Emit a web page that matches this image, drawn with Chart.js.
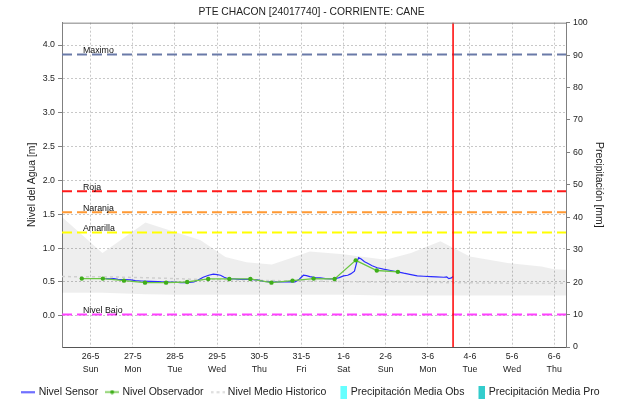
<!DOCTYPE html>
<html>
<head>
<meta charset="utf-8">
<title>PTE CHACON [24017740] - CORRIENTE: CANE</title>
<script src="https://cdn.jsdelivr.net/npm/chart.js@4.4.1/dist/chart.umd.min.js"></script>
<style>
  html, body { margin: 0; padding: 0; background: #fff; }
  canvas { display: block; }
</style>
</head>
<body>
<canvas id="grafico" width="623" height="402"></canvas>
<script>
// el eje x va en dias contados desde el 26-5 a las 00:00
const diasEtiqueta = ['26-5', '27-5', '28-5', '29-5', '30-5', '31-5', '1-6', '2-6', '3-6', '4-6', '5-6', '6-6'];
const diasSemana = ['Sun', 'Mon', 'Tue', 'Wed', 'Thu', 'Fri', 'Sat', 'Sun', 'Mon', 'Tue', 'Wed', 'Thu'];
const X_MIN = -0.68;
const X_MAX = 11.28;
const ahora = 8.6;

// Nivel Sensor [m]
const sensorTiempo = [0.35, 0.45, 0.55, 0.65, 0.8, 0.95, 1.06, 1.2, 1.42, 1.6, 1.77, 1.95, 2.13, 2.3, 2.45, 2.55,
  2.67, 2.8, 2.91, 3.0, 3.08, 3.17, 3.25, 3.4, 3.56, 3.75, 3.96, 4.1, 4.3, 4.5, 4.7, 4.85, 4.95, 5.05, 5.12,
  5.2, 5.33, 5.45, 5.57, 5.7, 5.8, 5.9, 6.0, 6.1, 6.17, 6.26, 6.31, 6.36, 6.42, 6.5, 6.56, 6.68, 6.8, 6.95,
  7.12, 7.28, 7.43, 7.6, 7.75, 7.9, 8.07, 8.2, 8.38, 8.45, 8.5, 8.56, 8.6];
const sensorNivel = [0.55, 0.545, 0.55, 0.54, 0.535, 0.53, 0.52, 0.515, 0.51, 0.505, 0.50, 0.50, 0.49, 0.49, 0.50, 0.53,
  0.57, 0.60, 0.615, 0.61, 0.60, 0.57, 0.55, 0.545, 0.54, 0.54, 0.53, 0.51, 0.50, 0.50, 0.505, 0.50, 0.54, 0.60, 0.595,
  0.58, 0.565, 0.56, 0.55, 0.545, 0.55, 0.565, 0.59, 0.60, 0.62, 0.66, 0.78, 0.86, 0.84, 0.80, 0.78, 0.74, 0.71, 0.69,
  0.67, 0.65, 0.63, 0.61, 0.59, 0.585, 0.58, 0.575, 0.57, 0.575, 0.55, 0.56, 0.58];

// Nivel Observador [m], lecturas de 07:00 y 19:00
const obsTiempo = [-0.21, 0.29, 0.79, 1.29, 1.79, 2.29, 2.79, 3.29, 3.79, 4.29, 4.79, 5.29, 5.79, 6.29, 6.79, 7.29];
const obsNivel = [0.55, 0.55, 0.52, 0.49, 0.49, 0.50, 0.545, 0.545, 0.545, 0.49, 0.52, 0.55, 0.545, 0.82, 0.67, 0.65];

// Nivel Medio Historico [m]
const histTiempo = [-0.68, 0.5, 1.5, 2.5, 3.5, 4.5, 5.5, 6.5, 7.5, 8.5, 9.5, 10.5, 11.28];
const histNivel = [0.58, 0.575, 0.56, 0.54, 0.53, 0.52, 0.51, 0.50, 0.50, 0.49, 0.485, 0.48, 0.48];

// banda historica (minimo / maximo) [m]
const bandaTiempo = [-0.68, 0.28, 1.3, 2.0, 2.6, 3.2, 3.7, 4.3, 4.74, 5.2, 6.0, 7.0, 7.6, 8.3, 9.0, 9.9, 10.7, 11.0, 11.28];
const bandaMax = [1.46, 0.93, 1.38, 1.24, 1.12, 0.87, 0.79, 0.76, 0.85, 0.95, 0.91, 0.83, 0.93, 1.10, 0.875, 0.78, 0.73, 0.69, 0.68];
const bandaMin = [0.34, 0.34, 0.32, 0.31, 0.31, 0.31, 0.31, 0.31, 0.31, 0.31, 0.31, 0.30, 0.30, 0.30, 0.30, 0.30, 0.30, 0.30, 0.30];

// precipitacion [mm] (sin lluvia en el periodo)
const precipObs = [];
const precipPro = [];

// umbrales [m]
const umbralNombre = ['Maximo', 'Roja', 'Naranja', 'Amarilla', 'Nivel Bajo'];
const umbralValor = [3.86, 1.84, 1.53, 1.23, 0.02];
const umbralColor = ['#6a7aa8', '#ff1a1a', '#ff9933', '#ffff00', '#ff40ff'];

const FUENTE = "'Liberation Sans', Arial, sans-serif";
const TEXTO = '#222';

function puntos(xs, ys) {
  return xs.map((x, i) => ({ x: x, y: ys[i] }));
}

// marcadores de la leyenda
function marcador(w, h, dibujar) {
  const c = document.createElement('canvas');
  c.width = w;
  c.height = h;
  dibujar(c.getContext('2d'), w, h);
  return c;
}
const marcadores = [
  marcador(14, 3, (g, w) => { g.strokeStyle = '#2b2bff'; g.lineWidth = 1.5; g.beginPath(); g.moveTo(0, 1.5); g.lineTo(w, 1.5); g.stroke(); }),
  marcador(14, 5, (g, w) => {
    g.strokeStyle = '#6cc644'; g.lineWidth = 1.5; g.beginPath(); g.moveTo(0, 2.5); g.lineTo(w, 2.5); g.stroke();
    g.fillStyle = '#3fae1a'; g.beginPath(); g.arc(w / 2, 2.5, 2, 0, Math.PI * 2); g.fill();
  }),
  marcador(14, 3, (g, w) => { g.strokeStyle = '#cfcfcf'; g.lineWidth = 1.5; g.setLineDash([3, 3]); g.beginPath(); g.moveTo(0, 1.5); g.lineTo(w, 1.5); g.stroke(); }),
  marcador(14, 13, (g) => { g.fillStyle = '#66ffff'; g.fillRect(7, 0, 7, 13); }),
  marcador(14, 13, (g) => { g.fillStyle = '#33cccc'; g.fillRect(7, 0, 7, 13); })
];

const datasets = [
  { label: 'Nivel Sensor', data: puntos(sensorTiempo, sensorNivel), borderColor: '#2b2bff', borderWidth: 1.2,
    pointRadius: 0, tension: 0, order: 2 },
  { label: 'Nivel Observador', data: puntos(obsTiempo, obsNivel), borderColor: '#6cc644', borderWidth: 1.3,
    pointRadius: 2.2, pointBackgroundColor: '#3fae1a', pointBorderWidth: 0, tension: 0, order: 1 },
  { label: 'Nivel Medio Historico', data: puntos(histTiempo, histNivel), borderColor: '#cfcfcf', borderWidth: 1.5,
    borderDash: [3, 3], pointRadius: 0, order: 5 },
  { type: 'bar', label: 'Precipitación Media Obs', data: precipObs, backgroundColor: '#66ffff', yAxisID: 'y2', order: 6 },
  { type: 'bar', label: 'Precipitación Media Pro', data: precipPro, backgroundColor: '#33cccc', yAxisID: 'y2', order: 6 },
  { label: 'banda-min', data: puntos(bandaTiempo, bandaMin), borderWidth: 0, pointRadius: 0, fill: false, order: 10 },
  { label: 'banda-max', data: puntos(bandaTiempo, bandaMax), borderWidth: 0, pointRadius: 0,
    fill: '-1', backgroundColor: 'rgba(0,0,0,0.065)', order: 10 }
];

umbralNombre.forEach((nombre, i) => {
  datasets.push({ label: 'umbral-' + nombre, data: [{ x: X_MIN, y: umbralValor[i] }, { x: X_MAX, y: umbralValor[i] }],
    borderColor: umbralColor[i], borderWidth: 2, borderDash: [10, 5], pointRadius: 0, order: 4 });
});

// linea de la hora actual
datasets.push({ label: 'ahora', data: [{ x: ahora, y: -1 }, { x: ahora, y: 5 }], borderColor: '#ff0000',
  borderWidth: 1.5, pointRadius: 0, order: 0 });

// nombres de los umbrales y borde superior del area
const etiquetasUmbral = {
  id: 'etiquetasUmbral',
  afterDatasetsDraw(chart) {
    const { ctx, chartArea, scales } = chart;
    ctx.save();
    ctx.strokeStyle = '#808080';
    ctx.lineWidth = 1;
    ctx.beginPath();
    ctx.moveTo(chartArea.left, chartArea.top + 0.5);
    ctx.lineTo(chartArea.right, chartArea.top + 0.5);
    ctx.stroke();
    ctx.font = '8.8px ' + FUENTE;
    ctx.fillStyle = '#111';
    ctx.textAlign = 'left';
    ctx.textBaseline = 'alphabetic';
    umbralNombre.forEach((nombre, i) => {
      ctx.fillText(nombre, chartArea.left + 21, scales.y.getPixelForValue(umbralValor[i]) - 1.5);
    });
    ctx.restore();
  }
};

new Chart(document.getElementById('grafico'), {
  type: 'line',
  data: { datasets: datasets },
  plugins: [etiquetasUmbral],
  options: {
    responsive: false,
    animation: false,
    devicePixelRatio: 1,
    layout: { padding: 0 },
    plugins: {
      title: {
        display: true,
        text: 'PTE CHACON [24017740] - CORRIENTE: CANE',
        color: TEXTO,
        font: { family: FUENTE, size: 10.3, weight: 'normal' },
        padding: { top: 5.5, bottom: 4.8 }
      },
      legend: {
        position: 'bottom',
        maxHeight: 24.2,
        labels: {
          usePointStyle: true,
          pointStyleWidth: 10,
          padding: 9,
          color: TEXTO,
          font: { family: FUENTE, size: 10.5 },
          filter: (item) => item.datasetIndex < 5,
          sort: (a, b) => a.datasetIndex - b.datasetIndex,
          generateLabels(chart) {
            const items = Chart.defaults.plugins.legend.labels.generateLabels(chart);
            items.forEach((it) => {
              if (it.datasetIndex < 5) it.pointStyle = marcadores[it.datasetIndex];
            });
            return items;
          }
        }
      },
      tooltip: { enabled: false }
    },
    scales: {
      x: {
        type: 'linear',
        min: X_MIN,
        max: X_MAX,
        offset: false,
        afterFit(s) { s.height = 30.8; },
        grid: { offset: false, color: '#c8c8c8', drawTicks: false },
        border: { color: '#555', dash: [2, 2] },
        ticks: {
          stepSize: 1,
          includeBounds: false,
          autoSkip: false,
          maxRotation: 0,
          padding: 2.5,
          color: TEXTO,
          font: { family: FUENTE, size: 8.8, lineHeight: 1.5 },
          callback(v) {
            const i = Math.round(v);
            if (Math.abs(v - i) > 1e-6 || i < 0 || i >= diasEtiqueta.length) return '';
            return [diasEtiqueta[i], diasSemana[i]];
          }
        }
      },
      y: {
        position: 'left',
        min: -0.46,
        max: 4.33,
        afterFit(s) { s.width = 62; },
        grid: { color: '#c8c8c8', tickColor: '#808080', tickLength: 4 },
        border: { color: '#808080', dash: [2, 2] },
        ticks: {
          stepSize: 0.5,
          includeBounds: false,
          padding: 3,
          color: TEXTO,
          font: { family: FUENTE, size: 8.8 },
          callback: (v) => v.toFixed(1)
        },
        title: {
          display: true,
          text: 'Nivel del Agua [m]',
          color: TEXTO,
          font: { family: FUENTE, size: 10.4 },
          padding: { top: 26, bottom: 0 }
        }
      },
      y2: {
        position: 'right',
        min: 0,
        max: 100,
        afterFit(s) { s.width = 57; },
        grid: { drawOnChartArea: false, color: '#808080', tickLength: 4 },
        border: { color: '#808080' },
        ticks: {
          stepSize: 10,
          padding: 3,
          color: TEXTO,
          font: { family: FUENTE, size: 8.8 }
        },
        title: {
          display: true,
          text: 'Precipitación [mm]',
          color: TEXTO,
          font: { family: FUENTE, size: 10.4 },
          padding: { top: 18, bottom: 0 }
        }
      }
    }
  }
});
</script>
</body>
</html>
